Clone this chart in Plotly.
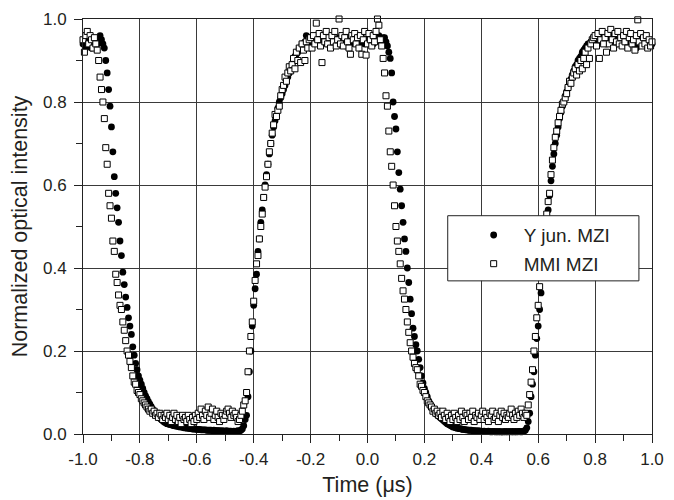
import numpy as np
import plotly.graph_objects as go

# Time base of the scope trace (microseconds)
T_START = -1.0
T_STEP = 0.005

# Y-junction MZI (filled circles), one row = 0.1 us
Y_JUN = [
    0.94, 0.95, 0.93, 0.94, 0.95, 0.94, 0.93, 0.94, 0.95, 0.94, 0.94, 0.95, 0.96, 0.95, 0.94, 0.93, 0.90, 0.87, 0.83, 0.79,
    0.74, 0.68, 0.62, 0.58, 0.545, 0.51, 0.465, 0.43, 0.39, 0.36, 0.33, 0.305, 0.28, 0.26, 0.24, 0.21, 0.19, 0.17, 0.155, 0.14,
    0.13, 0.12, 0.11, 0.10, 0.092, 0.085, 0.078, 0.072, 0.066, 0.06, 0.055, 0.05, 0.046, 0.042, 0.038, 0.035, 0.032, 0.029, 0.027, 0.025,
    0.024, 0.023, 0.022, 0.021, 0.02, 0.019, 0.019, 0.018, 0.017, 0.017, 0.016, 0.015, 0.015, 0.014, 0.014, 0.013, 0.013, 0.012, 0.012, 0.012,
    0.011, 0.011, 0.011, 0.010, 0.010, 0.010, 0.010, 0.009, 0.009, 0.009, 0.009, 0.008, 0.009, 0.008, 0.008, 0.008, 0.008, 0.007, 0.008, 0.007,
    0.007, 0.008, 0.006, 0.007, 0.007, 0.006, 0.007, 0.006, 0.007, 0.008, 0.007, 0.009, 0.012, 0.02, 0.035, 0.045, 0.09, 0.15, 0.20, 0.26,
    0.31, 0.35, 0.385, 0.44, 0.47, 0.51, 0.54, 0.57, 0.60, 0.625, 0.65, 0.675, 0.70, 0.72, 0.74, 0.755, 0.77, 0.785, 0.80, 0.81,
    0.82, 0.83, 0.84, 0.85, 0.86, 0.87, 0.88, 0.89, 0.90, 0.91, 0.915, 0.92, 0.93, 0.93, 0.94, 0.94, 0.945, 0.96, 0.95, 0.95,
    0.95, 0.94, 0.955, 0.95, 0.945, 0.96, 0.95, 0.94, 0.95, 0.955, 0.945, 0.95, 0.94, 0.955, 0.95, 0.96, 0.945, 0.95, 0.94, 0.95,
    0.955, 0.95, 0.94, 0.95, 0.945, 0.935, 0.95, 0.955, 0.94, 0.95, 0.945, 0.95, 0.96, 0.95, 0.94, 0.945, 0.955, 0.95, 0.94, 0.95,
    0.95, 0.945, 0.955, 0.95, 0.94, 0.95, 0.945, 0.955, 0.96, 0.95, 0.945, 0.955, 0.955, 0.945, 0.935, 0.92, 0.905, 0.87, 0.80, 0.765,
    0.735, 0.68, 0.63, 0.59, 0.55, 0.51, 0.47, 0.44, 0.40, 0.365, 0.325, 0.29, 0.255, 0.235, 0.215, 0.20, 0.18, 0.16, 0.14, 0.123,
    0.11, 0.10, 0.09, 0.08, 0.073, 0.066, 0.06, 0.055, 0.05, 0.046, 0.043, 0.04, 0.037, 0.034, 0.031, 0.028, 0.025, 0.023, 0.021, 0.019,
    0.017, 0.016, 0.015, 0.014, 0.013, 0.013, 0.012, 0.011, 0.011, 0.010, 0.010, 0.009, 0.009, 0.009, 0.008, 0.008, 0.008, 0.007, 0.008, 0.007,
    0.007, 0.006, 0.007, 0.006, 0.006, 0.007, 0.006, 0.005, 0.006, 0.006, 0.005, 0.006, 0.005, 0.006, 0.005, 0.005, 0.006, 0.005, 0.006, 0.005,
    0.006, 0.005, 0.006, 0.005, 0.006, 0.005, 0.006, 0.006, 0.005, 0.006, 0.007, 0.009, 0.015, 0.03, 0.05, 0.09, 0.12, 0.15, 0.19, 0.23,
    0.26, 0.30, 0.34, 0.38, 0.42, 0.46, 0.50, 0.54, 0.575, 0.61, 0.645, 0.675, 0.70, 0.72, 0.74, 0.76, 0.775, 0.79, 0.80, 0.815,
    0.825, 0.835, 0.845, 0.855, 0.865, 0.875, 0.885, 0.89, 0.90, 0.905, 0.91, 0.92, 0.925, 0.93, 0.935, 0.94, 0.94, 0.945, 0.95, 0.95,
    0.955, 0.945, 0.95, 0.96, 0.95, 0.945, 0.955, 0.95, 0.94, 0.95, 0.955, 0.945, 0.95, 0.96, 0.95, 0.94, 0.95, 0.945, 0.955, 0.95,
    0.945, 0.95, 0.935, 0.94, 0.95, 0.955, 0.945, 0.95, 0.94, 0.93, 0.945, 0.95, 0.955, 0.945, 0.94, 0.95, 0.945, 0.935, 0.94, 0.945,
    0.94,
]

# MMI MZI (open squares), one row = 0.1 us
MMI = [
    0.95, 0.92, 0.96, 0.97, 0.94, 0.96, 0.95, 0.93, 0.955, 0.94, 0.925, 0.90, 0.86, 0.83, 0.80, 0.76, 0.69, 0.65, 0.58, 0.55,
    0.52, 0.465, 0.44, 0.385, 0.365, 0.335, 0.31, 0.30, 0.27, 0.25, 0.225, 0.20, 0.19, 0.175, 0.16, 0.14, 0.125, 0.12, 0.105, 0.10,
    0.095, 0.085, 0.08, 0.075, 0.07, 0.065, 0.06, 0.055, 0.06, 0.05, 0.055, 0.045, 0.05, 0.04, 0.05, 0.045, 0.035, 0.045, 0.04, 0.05,
    0.035, 0.045, 0.03, 0.04, 0.05, 0.035, 0.045, 0.03, 0.04, 0.025, 0.045, 0.035, 0.04, 0.03, 0.045, 0.035, 0.025, 0.04, 0.03, 0.045,
    0.035, 0.05, 0.04, 0.06, 0.045, 0.035, 0.055, 0.045, 0.065, 0.04, 0.05, 0.06, 0.035, 0.045, 0.055, 0.04, 0.03, 0.05, 0.045, 0.035,
    0.045, 0.055, 0.06, 0.05, 0.04, 0.055, 0.045, 0.05, 0.04, 0.03, 0.035, 0.045, 0.055, 0.07, 0.08, 0.10, 0.15, 0.20, 0.235, 0.27,
    0.32, 0.37, 0.41, 0.43, 0.47, 0.50, 0.53, 0.57, 0.595, 0.62, 0.65, 0.68, 0.70, 0.725, 0.745, 0.77, 0.765, 0.78, 0.79, 0.815,
    0.83, 0.84, 0.86, 0.85, 0.87, 0.885, 0.875, 0.89, 0.905, 0.88, 0.92, 0.90, 0.93, 0.895, 0.94, 0.925, 0.90, 0.945, 0.93, 0.95,
    0.955, 0.93, 0.96, 0.94, 0.99, 0.95, 0.965, 0.935, 0.895, 0.96, 0.945, 0.97, 0.94, 0.955, 0.93, 0.96, 0.945, 0.97, 0.935, 0.95,
    1.0, 0.94, 0.96, 0.935, 0.955, 0.97, 0.945, 0.93, 0.915, 0.96, 0.95, 0.965, 0.94, 0.955, 0.93, 0.96, 0.915, 0.95, 0.97, 0.913,
    0.94, 0.965, 0.95, 0.935, 0.96, 0.945, 0.97, 1.0, 0.985, 0.95, 0.935, 0.905, 0.87, 0.815, 0.79, 0.73, 0.68, 0.645, 0.60, 0.55,
    0.50, 0.465, 0.44, 0.41, 0.375, 0.345, 0.325, 0.30, 0.27, 0.245, 0.22, 0.20, 0.185, 0.17, 0.16, 0.155, 0.14, 0.12, 0.115, 0.105,
    0.10, 0.09, 0.08, 0.075, 0.07, 0.065, 0.055, 0.06, 0.05, 0.055, 0.045, 0.05, 0.04, 0.055, 0.045, 0.035, 0.05, 0.04, 0.03, 0.045,
    0.035, 0.05, 0.04, 0.03, 0.045, 0.035, 0.055, 0.04, 0.03, 0.05, 0.045, 0.035, 0.05, 0.04, 0.055, 0.03, 0.045, 0.04, 0.05, 0.035,
    0.045, 0.055, 0.035, 0.05, 0.04, 0.03, 0.05, 0.045, 0.055, 0.035, 0.04, 0.05, 0.03, 0.045, 0.055, 0.04, 0.05, 0.035, 0.045, 0.04,
    0.05, 0.06, 0.045, 0.035, 0.05, 0.04, 0.055, 0.045, 0.06, 0.05, 0.04, 0.05, 0.045, 0.07, 0.095, 0.125, 0.155, 0.20, 0.235, 0.28,
    0.31, 0.355, 0.39, 0.42, 0.45, 0.48, 0.53, 0.56, 0.58, 0.625, 0.66, 0.69, 0.715, 0.73, 0.75, 0.765, 0.78, 0.795, 0.80, 0.81,
    0.82, 0.835, 0.85, 0.845, 0.86, 0.87, 0.88, 0.865, 0.89, 0.875, 0.90, 0.88, 0.905, 0.92, 0.89, 0.93, 0.905, 0.94, 0.95, 0.955,
    0.96, 0.935, 0.965, 0.905, 0.95, 0.97, 0.94, 0.955, 0.92, 0.965, 0.94, 0.975, 0.95, 0.93, 0.965, 0.945, 0.97, 0.94, 0.955, 0.935,
    0.96, 0.945, 0.97, 0.93, 0.955, 0.965, 0.94, 0.95, 0.925, 0.96, 0.998, 0.945, 0.965, 0.935, 0.955, 0.94, 0.96, 0.93, 0.95, 0.935,
    0.945,
]

X_TICKS = [-1.0, -0.8, -0.6, -0.4, -0.2, 0.0, 0.2, 0.4, 0.6, 0.8, 1.0]
X_TICK_LABELS = ["-1.0", "-0.8", "-0.6", "-0.4", "-0.2", "0.0", "0.2", "0.4", "0.6", "0.8", "1.0"]
Y_TICKS = [0.0, 0.2, 0.4, 0.6, 0.8, 1.0]
Y_TICK_LABELS = ["0.0", "0.2", "0.4", "0.6", "0.8", "1.0"]

assert len(Y_JUN) == 401, len(Y_JUN)
assert len(MMI) == 401, len(MMI)
t = np.round(T_START + T_STEP * np.arange(len(Y_JUN)), 3)

FONT = "Liberation Sans, Arial, Helvetica, sans-serif"
TXT = "#231f20"

fig = go.Figure()
fig.add_trace(go.Scatter(
    x=t, y=Y_JUN, mode="markers", name="Y jun. MZI",
    legendgroup="a",
    marker=dict(symbol="circle", size=6.8, color="black", line=dict(width=0)),
    cliponaxis=False,
))
fig.add_trace(go.Scatter(
    x=t, y=MMI, mode="markers", name="MMI MZI",
    legendgroup="b",
    marker=dict(symbol="square", size=6, color="white", line=dict(width=1, color="black")),
    cliponaxis=False,
))

axis_common = dict(
    showgrid=True, gridcolor="#3a3a3a", gridwidth=1,
    showline=True, linecolor="#222", linewidth=1, mirror=True,
    ticks="outside", ticklen=8, tickwidth=1, tickcolor="#222",
    zeroline=False, automargin=False,
    tickfont=dict(family=FONT, size=17, color=TXT),
)

fig.update_xaxes(
    range=[-1.0, 1.0], tickmode="array", tickvals=X_TICKS, ticktext=X_TICK_LABELS,
    minor=dict(ticks="outside", ticklen=6, tickcolor="#222", dtick=0.1, tick0=-1.0, showgrid=False),
    title=dict(text="Time (\u03bcs)", font=dict(family=FONT, size=21.5, color=TXT), standoff=8),
    ticklabelstandoff=2,
    **axis_common,
)
fig.update_yaxes(
    range=[0.0, 1.0], tickmode="array", tickvals=Y_TICKS, ticktext=Y_TICK_LABELS,
    minor=dict(ticks="outside", ticklen=6, tickcolor="#222", dtick=0.1, tick0=0.0, showgrid=False),
    title=dict(text="Normalized optical intensity", font=dict(family=FONT, size=21.5, color=TXT), standoff=12),
    ticklabelstandoff=4,
    **axis_common,
)

# The page body has an 8 px default margin, so the figure is sized 8 px smaller
fig.update_layout(
    width=666, height=492,
    margin=dict(l=75, r=22, t=11, b=66, autoexpand=False),
    paper_bgcolor="white", plot_bgcolor="white",
    showlegend=True,
    legend=dict(
        x=0.669, y=0.525, xanchor="left", yanchor="top",
        bgcolor="rgba(0,0,0,0)", borderwidth=0,
        font=dict(family=FONT, size=19, color=TXT),
        traceorder="grouped", tracegroupgap=1,
        itemwidth=50,
    ),
    shapes=[dict(
        type="rect", xref="paper", yref="paper",
        x0=0.641, x1=0.977, y0=0.369, y1=0.526,
        line=dict(color="#222", width=1), fillcolor="white", layer="above",
    )],
)

fig.write_html("out.html")
